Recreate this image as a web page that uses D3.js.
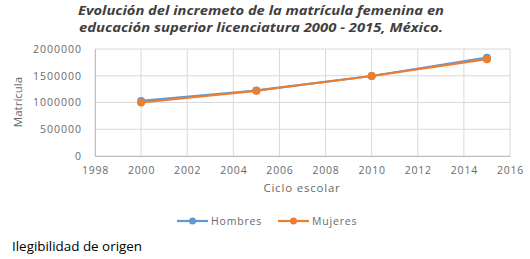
<!DOCTYPE html>
<html><head><meta charset="utf-8">
<script src="https://cdn.jsdelivr.net/npm/d3@7"></script>
<style>body{margin:0;background:#fff}</style>
</head><body>
<svg id="c" width="530" height="259"></svg>
<script>
const years = [2000, 2005, 2010, 2015];
const hombres = [1030000, 1225000, 1495000, 1838000];
const mujeres = [1000000, 1220000, 1495000, 1810000];
const xTicks = [1998, 2000, 2002, 2004, 2006, 2008, 2010, 2012, 2014, 2016];
const yTicks = [0, 500000, 1000000, 1500000, 2000000];
const seriesNames = ["Hombres", "Mujeres"];
const colors = ["#5B9BD5", "#ED7D31"];

const svg = d3.select("#c");
const x = d3.scaleLinear().domain([1998, 2016]).range([95, 510]);
const y = d3.scaleLinear().domain([0, 2000000]).range([156, 49]);
const grid = "#d9d9d9", txt = "#6a6a6a";
const font = "'Open Sans', sans-serif";

svg.append("text").attr("x", 261).attr("y", 15).attr("text-anchor", "middle")
  .attr("font-family", font).attr("font-weight", "bold").attr("font-style", "italic")
  .attr("font-size", 12).attr("fill", "#404040")
  .attr("textLength", 366).attr("lengthAdjust", "spacingAndGlyphs")
  .text("Evolución del incremeto de la matrícula femenina en");
svg.append("text").attr("x", 261).attr("y", 31.5).attr("text-anchor", "middle")
  .attr("font-family", font).attr("font-weight", "bold").attr("font-style", "italic")
  .attr("font-size", 12).attr("fill", "#404040")
  .attr("textLength", 364).attr("lengthAdjust", "spacingAndGlyphs")
  .text("educación superior licenciatura 2000 - 2015, México.");

// grid
svg.append("g").selectAll("line").data(yTicks).join("line")
  .attr("x1", x(1998)).attr("x2", x(2016)).attr("y1", d => y(d)).attr("y2", d => y(d))
  .attr("stroke", grid).attr("stroke-width", 1);
svg.append("g").selectAll("line").data(xTicks).join("line")
  .attr("x1", d => x(d)).attr("x2", d => x(d)).attr("y1", y(0)).attr("y2", y(2000000))
  .attr("stroke", grid).attr("stroke-width", 1);

// axes
const yAxis = d3.axisLeft(y).tickValues(yTicks).tickSize(0).tickPadding(13).tickFormat(d3.format("d"));
const gy = svg.append("g").attr("transform", `translate(${x(1998)},0)`).call(yAxis);
gy.select(".domain").attr("stroke", "#bfbfbf");
gy.selectAll("text").attr("font-family", font).attr("font-size", 10.5)
  .attr("letter-spacing", 1).attr("fill", txt);

const xAxis = d3.axisBottom(x).tickValues(xTicks).tickSize(0).tickPadding(11).tickFormat(d3.format("d"));
const gx = svg.append("g").attr("transform", `translate(0,${y(0)})`).call(xAxis);
gx.select(".domain").attr("stroke", "#bfbfbf");
gx.selectAll("text").attr("font-family", font).attr("font-size", 10.5)
  .attr("letter-spacing", 0.8).attr("fill", txt);

svg.append("text").attr("transform", "translate(22,102) rotate(-90)").attr("text-anchor", "middle")
  .attr("font-family", font).attr("font-size", 11.5).attr("fill", txt).text("Matrícula");
svg.append("text").attr("x", 302).attr("y", 192).attr("text-anchor", "middle")
  .attr("font-family", font).attr("font-size", 11.5).attr("letter-spacing", 0.8)
  .attr("fill", txt).text("Ciclo escolar");

// lines
const line = d3.line().x((d, i) => x(years[i])).y(d => y(d));
[hombres, mujeres].forEach((s, k) => {
  svg.append("path").datum(s).attr("d", line).attr("fill", "none")
    .attr("stroke", colors[k]).attr("stroke-width", 2.2);
  svg.append("g").selectAll("circle").data(s).join("circle")
    .attr("cx", (d, i) => x(years[i])).attr("cy", d => y(d)).attr("r", 4)
    .attr("fill", colors[k]);
});

// legend
const lx = [177, 278];
seriesNames.forEach((n, k) => {
  svg.append("line").attr("x1", lx[k]).attr("x2", lx[k] + 31).attr("y1", 221).attr("y2", 221)
    .attr("stroke", colors[k]).attr("stroke-width", 2.2);
  svg.append("circle").attr("cx", lx[k] + 15.5).attr("cy", 221).attr("r", 3.5).attr("fill", colors[k]);
  svg.append("text").attr("x", lx[k] + 34).attr("y", 225).attr("font-family", font)
    .attr("font-size", 10.5).attr("letter-spacing", 0.8).attr("fill", txt).text(n);
});

svg.append("text").attr("x", 12).attr("y", 251).attr("font-family", font)
  .attr("font-size", 13.4).attr("fill", "#000").text("Ilegibilidad de origen");
</script>
</body></html>
